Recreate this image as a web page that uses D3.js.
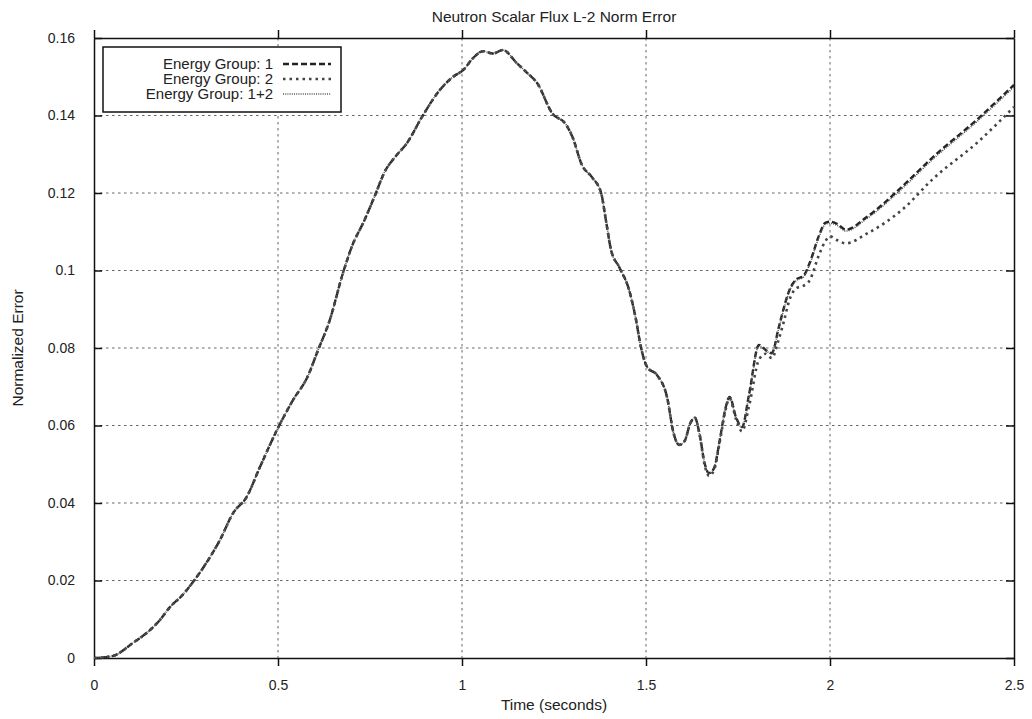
<!DOCTYPE html>
<html>
<head>
<meta charset="utf-8">
<script src="https://d3js.org/d3.v7.min.js"></script>
<style>
  body { margin: 0; background: #fff; }
  text { font-family: "Liberation Sans", Arial, sans-serif; fill: #222; }
</style>
</head>
<body>
<div id="chart"></div>
<script>
// data
var times = [0, 0.05, 0.106, 0.152, 0.179, 0.207, 0.24, 0.269, 0.315, 0.342, 0.378, 0.415, 0.451, 0.497,
  0.541, 0.58, 0.609, 0.64, 0.677, 0.70, 0.735, 0.764, 0.79, 0.82, 0.85, 0.891, 0.94, 0.976, 1.003,
  1.03, 1.057, 1.084, 1.111, 1.149, 1.177, 1.204, 1.245, 1.283, 1.30, 1.326, 1.353, 1.378, 1.391,
  1.405, 1.427, 1.454, 1.473, 1.486, 1.503, 1.53, 1.557, 1.575, 1.59, 1.605, 1.62, 1.633, 1.645,
  1.66, 1.671, 1.685, 1.70, 1.715, 1.727, 1.745, 1.761, 1.78, 1.807, 1.825, 1.842, 1.86, 1.875,
  1.89, 1.91, 1.927, 1.945, 1.97, 1.987, 2.0, 2.02, 2.043, 2.1, 2.2, 2.277, 2.4, 2.5];

var group1 = [0, 0.0005, 0.0039, 0.0072, 0.0098, 0.0132, 0.0162, 0.0196, 0.026, 0.0304, 0.0374, 0.0416,
  0.0493, 0.0588, 0.0666, 0.0725, 0.0795, 0.087, 0.0995, 0.106, 0.113, 0.1195, 0.1255, 0.1295, 0.1328,
  0.1396, 0.1466, 0.150, 0.1517, 0.1548, 0.1566, 0.156, 0.1569, 0.1535, 0.151, 0.1484, 0.1406,
  0.1376, 0.1345, 0.1272, 0.1241, 0.120, 0.113, 0.1053, 0.1009, 0.095, 0.0872, 0.0803, 0.0751,
  0.073, 0.0674, 0.058, 0.055, 0.056, 0.0605, 0.062, 0.058, 0.050, 0.0477, 0.049, 0.056, 0.064,
  0.0674, 0.062, 0.0596, 0.068, 0.0808, 0.0795, 0.0787, 0.085, 0.0905, 0.095, 0.0978, 0.0985,
  0.102, 0.109, 0.1123, 0.1126, 0.112, 0.1105, 0.1138, 0.122, 0.129, 0.139, 0.1479];

var group2 = [0, 0.0005, 0.0039, 0.0072, 0.0098, 0.0132, 0.0162, 0.0196, 0.026, 0.0304, 0.0374, 0.0416,
  0.0493, 0.0588, 0.0666, 0.0725, 0.0795, 0.087, 0.0995, 0.106, 0.113, 0.1195, 0.1255, 0.1295, 0.1328,
  0.1396, 0.1466, 0.150, 0.1517, 0.1548, 0.1566, 0.156, 0.1569, 0.1535, 0.151, 0.1484, 0.1406,
  0.1376, 0.1345, 0.1272, 0.1241, 0.120, 0.113, 0.1053, 0.1009, 0.095, 0.0872, 0.0803, 0.0751,
  0.073, 0.0674, 0.058, 0.055, 0.056, 0.0605, 0.062, 0.058, 0.0495, 0.047, 0.0485, 0.0555, 0.0635,
  0.067, 0.0615, 0.0585, 0.065, 0.077, 0.0785, 0.0774, 0.082, 0.087, 0.0925, 0.0955, 0.096,
  0.0975, 0.104, 0.1075, 0.1088, 0.1078, 0.107, 0.1095, 0.116, 0.1234, 0.133, 0.1422];

var group12 = [0, 0.0005, 0.0039, 0.0072, 0.0098, 0.0132, 0.0162, 0.0196, 0.026, 0.0304, 0.0374, 0.0416,
  0.0493, 0.0588, 0.0666, 0.0725, 0.0795, 0.087, 0.0995, 0.106, 0.113, 0.1195, 0.1255, 0.1295, 0.1328,
  0.1396, 0.1466, 0.150, 0.1517, 0.1548, 0.1566, 0.156, 0.1569, 0.1535, 0.151, 0.1484, 0.1406,
  0.1376, 0.1345, 0.1272, 0.1241, 0.120, 0.113, 0.1053, 0.1009, 0.095, 0.0872, 0.0803, 0.0751,
  0.073, 0.0674, 0.058, 0.055, 0.056, 0.0605, 0.062, 0.058, 0.050, 0.0476, 0.049, 0.056, 0.064,
  0.0674, 0.062, 0.0595, 0.0678, 0.0805, 0.0793, 0.0785, 0.0847, 0.0902, 0.0947, 0.0975, 0.0982,
  0.1016, 0.1086, 0.1119, 0.1122, 0.1116, 0.1102, 0.1134, 0.1215, 0.1285, 0.1385, 0.1474];

var seriesNames = ["Energy Group: 1", "Energy Group: 2", "Energy Group: 1+2"];
var xTicks = [0, 0.5, 1, 1.5, 2, 2.5];
var yTicks = [0, 0.02, 0.04, 0.06, 0.08, 0.1, 0.12, 0.14, 0.16];

var svgWidth = 1032;
var svgHeight = 719;
var margin = { top: 38, right: 18, bottom: 61, left: 94 };
var width = svgWidth - margin.left - margin.right;
var height = svgHeight - margin.top - margin.bottom;

var svg = d3.select("#chart")
  .append("svg")
  .attr("width", svgWidth)
  .attr("height", svgHeight);

var chartGroup = svg.append("g")
  .attr("transform", `translate(${margin.left}, ${margin.top})`);

var xScale = d3.scaleLinear().domain([0, 2.5]).range([0, width]);
var yScale = d3.scaleLinear().domain([0, 0.16]).range([height, 0]);

// grid
chartGroup.selectAll("line.xgrid")
  .data(xTicks.slice(1, -1))
  .enter()
  .append("line")
  .attr("x1", d => xScale(d)).attr("x2", d => xScale(d))
  .attr("y1", 0).attr("y2", height)
  .attr("stroke", "#666").attr("stroke-width", 1)
  .attr("stroke-dasharray", "2.5,3.5");

chartGroup.selectAll("line.ygrid")
  .data(yTicks.slice(1, -1))
  .enter()
  .append("line")
  .attr("x1", 0).attr("x2", width)
  .attr("y1", d => yScale(d)).attr("y2", d => yScale(d))
  .attr("stroke", "#666").attr("stroke-width", 1)
  .attr("stroke-dasharray", "2.5,3.5");

// axes: x ticks out, y ticks in (mirrored)
var bottomAxis = d3.axisBottom(xScale).tickValues(xTicks).tickFormat(d3.format("")).tickSizeInner(8).tickSizeOuter(0).tickPadding(14);
var topAxis = d3.axisTop(xScale).tickValues(xTicks).tickFormat("").tickSizeInner(8).tickSizeOuter(0);
var leftAxis = d3.axisLeft(yScale).tickValues(yTicks).tickFormat(d3.format("")).tickSizeInner(-8).tickSizeOuter(0).tickPadding(19);
var rightAxis = d3.axisRight(yScale).tickValues(yTicks).tickFormat("").tickSizeInner(-8).tickSizeOuter(0);

function styleAxis(g) {
  g.select(".domain").attr("stroke", "#111").attr("stroke-width", 1.5);
  g.selectAll(".tick line").attr("stroke", "#111").attr("stroke-width", 1.5);
  g.selectAll(".tick text").attr("font-size", 14).attr("fill", "#222")
    .attr("font-family", "Liberation Sans, Arial, sans-serif");
}

chartGroup.append("g").attr("transform", `translate(0, ${height})`).call(bottomAxis).call(styleAxis);
chartGroup.append("g").call(topAxis).call(styleAxis);
chartGroup.append("g").call(leftAxis).call(styleAxis);
chartGroup.append("g").attr("transform", `translate(${width}, 0)`).call(rightAxis).call(styleAxis);

// lines
var lineStyles = [
  { dash: "6,3", w: 2.4, color: "#222" },
  { dash: "2.5,4", w: 2.6, color: "#444" },
  { dash: "1,1.2", w: 1.6, color: "#555" }
];
var allSeries = [group1, group2, group12];

var line = d3.line()
  .x(d => xScale(d[0]))
  .y(d => yScale(d[1]))
  .curve(d3.curveMonotoneX);

allSeries.forEach(function(vals, i) {
  var pts = times.map((t, j) => [t, vals[j]]);
  chartGroup.append("path")
    .datum(pts)
    .attr("d", line)
    .attr("fill", "none")
    .attr("stroke", lineStyles[i].color)
    .attr("stroke-width", lineStyles[i].w)
    .attr("stroke-dasharray", lineStyles[i].dash);
});

// legend
var legend = svg.append("g").attr("transform", "translate(103, 47)");
legend.append("rect")
  .attr("width", 238).attr("height", 65)
  .attr("fill", "#fff").attr("stroke", "#111").attr("stroke-width", 1.5);

seriesNames.forEach(function(name, i) {
  var yy = 17 + i * 15;
  legend.append("text")
    .attr("x", 170).attr("y", yy + 5)
    .attr("text-anchor", "end")
    .attr("font-size", 15)
    .text(name);
  legend.append("line")
    .attr("x1", 180).attr("x2", 228)
    .attr("y1", yy).attr("y2", yy)
    .attr("stroke", lineStyles[i].color)
    .attr("stroke-width", lineStyles[i].w)
    .attr("stroke-dasharray", lineStyles[i].dash);
});

// title and axis labels
svg.append("text")
  .attr("x", margin.left + width / 2).attr("y", 22)
  .attr("text-anchor", "middle").attr("font-size", 15.5)
  .text("Neutron Scalar Flux L-2 Norm Error");

svg.append("text")
  .attr("x", margin.left + width / 2).attr("y", 710)
  .attr("text-anchor", "middle").attr("font-size", 15.5)
  .text("Time (seconds)");

svg.append("text")
  .attr("transform", "rotate(-90)")
  .attr("x", -(margin.top + height / 2)).attr("y", 23)
  .attr("text-anchor", "middle").attr("font-size", 15.5)
  .text("Normalized Error");
</script>
</body>
</html>
